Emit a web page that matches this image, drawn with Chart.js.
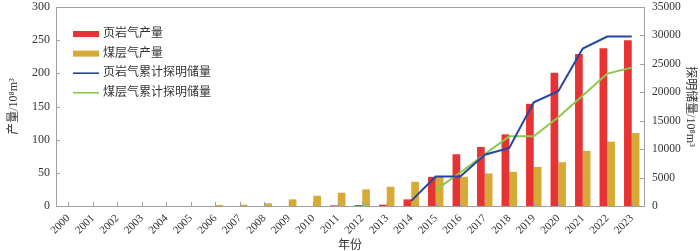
<!DOCTYPE html>
<html>
<head>
<meta charset="utf-8">
<script src="https://cdn.jsdelivr.net/npm/chart.js@4"></script>
<style>
  html, body { margin: 0; padding: 0; background: #fff; }
  #wrap { width: 700px; height: 251px; }
</style>
</head>
<body>
<div id="wrap"><canvas id="c"></canvas></div>
<script>
var years = ['2000','2001','2002','2003','2004','2005','2006','2007','2008','2009','2010','2011',
             '2012','2013','2014','2015','2016','2017','2018','2019','2020','2021','2022','2023'];
// 产量 (10^8 m3)
var shaleProd = [0,0,0,0,0,0,0,0,0,0,0,1,1.5,2,10,44,78,89,108,154,201,229,238,250];
var cbmProd   = [0,0,0,0,0,0,1.5,2,4,10,15.5,20,25,29,36.5,44,44,49,51.5,59,66,83,97,110];
// 累计探明储量 (10^8 m3)
var shaleRes = [null,null,null,null,null,null,null,null,null,null,null,null,null,null,
                900,5180,5180,9020,10200,18250,20200,27700,29800,29800];
var cbmRes   = [null,null,null,null,null,null,null,null,null,null,null,null,null,null,
                null,2830,5900,9100,12250,12250,15600,19440,23280,24340];

var serif = "'Liberation Serif', 'Times New Roman', serif";
var cjk = "'Liberation Serif', 'Noto Sans CJK SC', serif";
var axisGray = '#a0a0a0';

// inward tick marks, top frame and legend inside the plot
var decor = {
  id: 'decor',
  afterDraw: function(chart) {
    var ctx = chart.ctx, a = chart.chartArea;
    ctx.save();
    ctx.strokeStyle = axisGray;
    ctx.lineWidth = 1;
    ctx.beginPath();
    ctx.moveTo(a.left, a.top + 0.5); ctx.lineTo(a.right, a.top + 0.5);
    var x = chart.scales.x;
    x.ticks.forEach(function(t, i) {
      var px = Math.round(x.getPixelForTick(i)) + 0.5;
      ctx.moveTo(px, a.bottom); ctx.lineTo(px, a.bottom - 4);
    });
    var y = chart.scales.y;
    y.ticks.forEach(function(t, i) {
      var py = Math.round(y.getPixelForTick(i)) + 0.5;
      ctx.moveTo(a.left, py); ctx.lineTo(a.left + 4, py);
    });
    var y1 = chart.scales.y1;
    y1.ticks.forEach(function(t, i) {
      var py = Math.round(y1.getPixelForTick(i)) + 0.5;
      ctx.moveTo(a.right, py); ctx.lineTo(a.right - 4, py);
    });
    ctx.stroke();

    // legend
    var lx = a.left + 17, ly = a.top + 27, step = 19.6;
    ctx.font = '12px ' + cjk;
    ctx.textBaseline = 'middle';
    chart.data.datasets.forEach(function(ds, i) {
      var cy = ly + i * step;
      if (ds.type === 'line') {
        ctx.strokeStyle = ds.borderColor;
        ctx.lineWidth = 1.6;
        ctx.beginPath(); ctx.moveTo(lx, cy); ctx.lineTo(lx + 26, cy); ctx.stroke();
      } else {
        ctx.fillStyle = ds.backgroundColor;
        ctx.fillRect(lx, cy - 3, 26, 6);
      }
      ctx.fillStyle = '#333';
      ctx.fillText(ds.label, lx + 30, cy);
    });
    ctx.restore();
  }
};

function fitY(s) { s.width = 56; s.paddingTop = 0; s.paddingBottom = 0; }

new Chart(document.getElementById('c').getContext('2d'), {
  data: {
    labels: years,
    datasets: [
      { type: 'bar', label: '页岩气产量', data: shaleProd, backgroundColor: '#e63434', yAxisID: 'y', order: 2 },
      { type: 'bar', label: '煤层气产量', data: cbmProd, backgroundColor: '#d6aa34', yAxisID: 'y', order: 2 },
      { type: 'line', label: '页岩气累计探明储量', data: shaleRes, borderColor: '#2545a3', borderWidth: 2,
        pointRadius: 0, tension: 0, yAxisID: 'y1', order: 1 },
      { type: 'line', label: '煤层气累计探明储量', data: cbmRes, borderColor: '#8cc84c', borderWidth: 2,
        pointRadius: 0, tension: 0, yAxisID: 'y1', order: 1 }
    ]
  },
  options: {
    responsive: true,
    maintainAspectRatio: false,
    animation: false,
    layout: { padding: { top: 7, left: 0, right: 0, bottom: 0 } },
    datasets: { bar: { categoryPercentage: 0.63, barPercentage: 1.0 } },
    plugins: {
      legend: { display: false },
      tooltip: { enabled: false }
    },
    scales: {
      x: {
        grid: { display: false, drawTicks: false },
        border: { display: true, color: axisGray },
        ticks: { color: '#333', font: { family: serif, size: 11 }, maxRotation: 45, minRotation: 45,
                 autoSkip: false, padding: 6 },
        title: { display: true, text: '年份', color: '#333', font: { family: cjk, size: 12 }, padding: { bottom: -2 } },
        afterFit: function(s) { s.height = 45; s.paddingLeft = 0; s.paddingRight = 0; }
      },
      y: {
        position: 'left',
        min: 0, max: 300,
        grid: { display: false, drawTicks: false },
        border: { display: true, color: axisGray },
        ticks: { stepSize: 50, color: '#333', font: { family: serif, size: 12 }, padding: 6 },
        title: { display: true, text: '产量/10⁸m³', color: '#333', font: { family: cjk, size: 12 }, padding: { top: 7 } },
        afterFit: fitY
      },
      y1: {
        position: 'right',
        min: 0, max: 35000,
        grid: { display: false, drawTicks: false },
        border: { display: true, color: axisGray },
        ticks: { stepSize: 5000, color: '#333', font: { family: serif, size: 11.5 }, padding: 8,
                 callback: function(v) { return String(v); } },
        title: { display: true, text: '探明储量/10⁸m³', color: '#333', font: { family: cjk, size: 12 }, padding: { top: 3 } },
        afterFit: fitY
      }
    }
  },
  plugins: [decor]
});
</script>
</body>
</html>
